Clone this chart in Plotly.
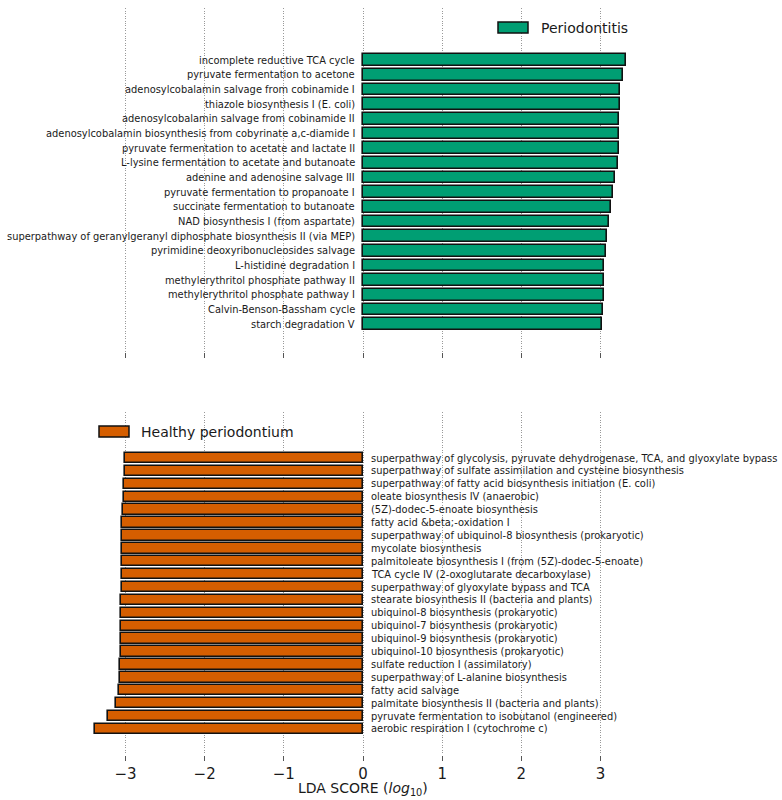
import plotly.graph_objects as go
from plotly.subplots import make_subplots

# Periodontitis-enriched pathways (top to bottom) and LDA scores
perio_names = [
    "incomplete reductive TCA cycle",
    "pyruvate fermentation to acetone",
    "adenosylcobalamin salvage from cobinamide I",
    "thiazole biosynthesis I (E. coli)",
    "adenosylcobalamin salvage from cobinamide II",
    "adenosylcobalamin biosynthesis from cobyrinate a,c-diamide I",
    "pyruvate fermentation to acetate and lactate II",
    "L-lysine fermentation to acetate and butanoate",
    "adenine and adenosine salvage III",
    "pyruvate fermentation to propanoate I",
    "succinate fermentation to butanoate",
    "NAD biosynthesis I (from aspartate)",
    "superpathway of geranylgeranyl diphosphate biosynthesis II (via MEP)",
    "pyrimidine deoxyribonucleosides salvage",
    "L-histidine degradation I",
    "methylerythritol phosphate pathway II",
    "methylerythritol phosphate pathway I",
    "Calvin-Benson-Bassham cycle",
    "starch degradation V",
]
perio_lda = [3.32, 3.29, 3.245, 3.245, 3.23, 3.23, 3.23, 3.22, 3.18, 3.155,
             3.13, 3.11, 3.08, 3.075, 3.05, 3.04, 3.04, 3.035, 3.015]

# Healthy-enriched pathways (top to bottom) and LDA scores
healthy_names = [
    "superpathway of glycolysis, pyruvate dehydrogenase, TCA, and glyoxylate bypass",
    "superpathway of sulfate assimilation and cysteine biosynthesis",
    "superpathway of fatty acid biosynthesis initiation (E. coli)",
    "oleate biosynthesis IV (anaerobic)",
    "(5Z)-dodec-5-enoate biosynthesis",
    "fatty acid &beta;-oxidation I",
    "superpathway of ubiquinol-8 biosynthesis (prokaryotic)",
    "mycolate biosynthesis",
    "palmitoleate biosynthesis I (from (5Z)-dodec-5-enoate)",
    "TCA cycle IV (2-oxoglutarate decarboxylase)",
    "superpathway of glyoxylate bypass and TCA",
    "stearate biosynthesis II (bacteria and plants)",
    "ubiquinol-8 biosynthesis (prokaryotic)",
    "ubiquinol-7 biosynthesis (prokaryotic)",
    "ubiquinol-9 biosynthesis (prokaryotic)",
    "ubiquinol-10 biosynthesis (prokaryotic)",
    "sulfate reduction I (assimilatory)",
    "superpathway of L-alanine biosynthesis",
    "fatty acid salvage",
    "palmitate biosynthesis II (bacteria and plants)",
    "pyruvate fermentation to isobutanol (engineered)",
    "aerobic respiration I (cytochrome c)",
]
healthy_lda = [-3.01, -3.01, -3.015, -3.02, -3.03, -3.04, -3.04, -3.045, -3.045, -3.05,
               -3.05, -3.055, -3.06, -3.06, -3.06, -3.06, -3.065, -3.07, -3.08, -3.12,
               -3.22, -3.39]

x_ticks = [-3, -2, -1, 0, 1, 2, 3]

GREEN = "#009E73"
ORANGE = "#D55E00"
FONT = "DejaVu Sans"

W, HGT = 782, 800
PLOT_TOP = 8
PLOT_BOTTOM = 755
PH = PLOT_BOTTOM - PLOT_TOP


def px(page_x):
    return page_x / W


def py(page_y):
    return (PLOT_BOTTOM - page_y) / PH


# bottom-to-top ordering for plotting
p_names = perio_names[::-1]
p_vals = perio_lda[::-1]
h_names = healthy_names[::-1]
h_vals = healthy_lda[::-1]

fig = make_subplots(rows=2, cols=1, shared_xaxes=False, vertical_spacing=0.08)

fig.add_trace(go.Bar(
    x=p_vals, y=p_names, orientation="h", width=0.8,
    marker=dict(color=GREEN, line=dict(color="#111111", width=1.6)),
    name="Periodontitis", showlegend=False), row=1, col=1)
fig.add_trace(go.Bar(
    x=h_vals, y=h_names, orientation="h", width=0.8,
    marker=dict(color=ORANGE, line=dict(color="#111111", width=1.6)),
    name="Healthy periodontium", showlegend=False), row=2, col=1)

annotations = []
for i, name in enumerate(p_names):
    annotations.append(dict(x=0, y=i, xref="x", yref="y", text=name, showarrow=False,
                            xanchor="right", yanchor="middle", xshift=-6,
                            font=dict(family=FONT, size=9.9, color="#1a1a1a")))
for i, name in enumerate(h_names):
    annotations.append(dict(x=0, y=i, xref="x2", yref="y2", text=name, showarrow=False,
                            xanchor="left", yanchor="middle", xshift=6,
                            font=dict(family=FONT, size=9.9, color="#1a1a1a")))

# legend entries
annotations.append(dict(x=px(539), y=py(28), xref="paper", yref="paper", text="Periodontitis",
                        showarrow=False, xanchor="left", yanchor="middle",
                        font=dict(family=FONT, size=14, color="#1a1a1a")))
annotations.append(dict(x=px(139), y=py(432), xref="paper", yref="paper", text="Healthy periodontium",
                        showarrow=False, xanchor="left", yanchor="middle",
                        font=dict(family=FONT, size=14, color="#1a1a1a")))
# axis title
annotations.append(dict(x=px(363), y=py(789), xref="paper", yref="paper",
                        text="LDA SCORE (<i>log</i><sub>10</sub>)",
                        showarrow=False, xanchor="center", yanchor="middle",
                        font=dict(family=FONT, size=14, color="#1a1a1a")))

shapes = [
    dict(type="rect", xref="paper", yref="paper", x0=px(498), x1=px(528),
         y0=py(33), y1=py(22), fillcolor=GREEN, line=dict(color="#111", width=1.5)),
    dict(type="rect", xref="paper", yref="paper", x0=px(99), x1=px(129),
         y0=py(437), y1=py(426), fillcolor=ORANGE, line=dict(color="#111", width=1.5)),
]

x0px, scale = 363.0, 79.17
xrange = [-x0px / scale, (W - x0px) / scale]

common_x = dict(range=xrange, tickvals=x_ticks, showgrid=True, gridcolor="#999999",
                griddash="1px,1.5px", gridwidth=1, zeroline=False, showline=False,
                ticks="outside", ticklen=5, tickcolor="#555", tickwidth=1)

fig.update_layout(
    width=W, height=HGT, margin=dict(l=0, r=0, t=PLOT_TOP, b=HGT - PLOT_BOTTOM),
    plot_bgcolor="white", paper_bgcolor="white",
    font=dict(family=FONT, color="#1a1a1a"),
    bargap=0,
    xaxis=dict(**common_x, showticklabels=False, domain=[0, 1]),
    xaxis2=dict(**common_x, showticklabels=True, tickfont=dict(size=15, family=FONT, color="#1a1a1a"),
                domain=[0, 1]),
    yaxis=dict(domain=[py(352), 1], range=[-1.9, 21.55], type="category",
               categoryorder="array", categoryarray=p_names,
               showticklabels=False, showgrid=False, zeroline=False, ticks=""),
    yaxis2=dict(domain=[0, py(412)], range=[-2.02, 24.57], type="category",
                categoryorder="array", categoryarray=h_names,
                showticklabels=False, showgrid=False, zeroline=False, ticks=""),
    annotations=annotations,
    shapes=shapes,
)

fig.write_html("out.html", config={"displayModeBar": False},
               post_script="document.body.style.margin='0';document.body.style.overflow='hidden';")
